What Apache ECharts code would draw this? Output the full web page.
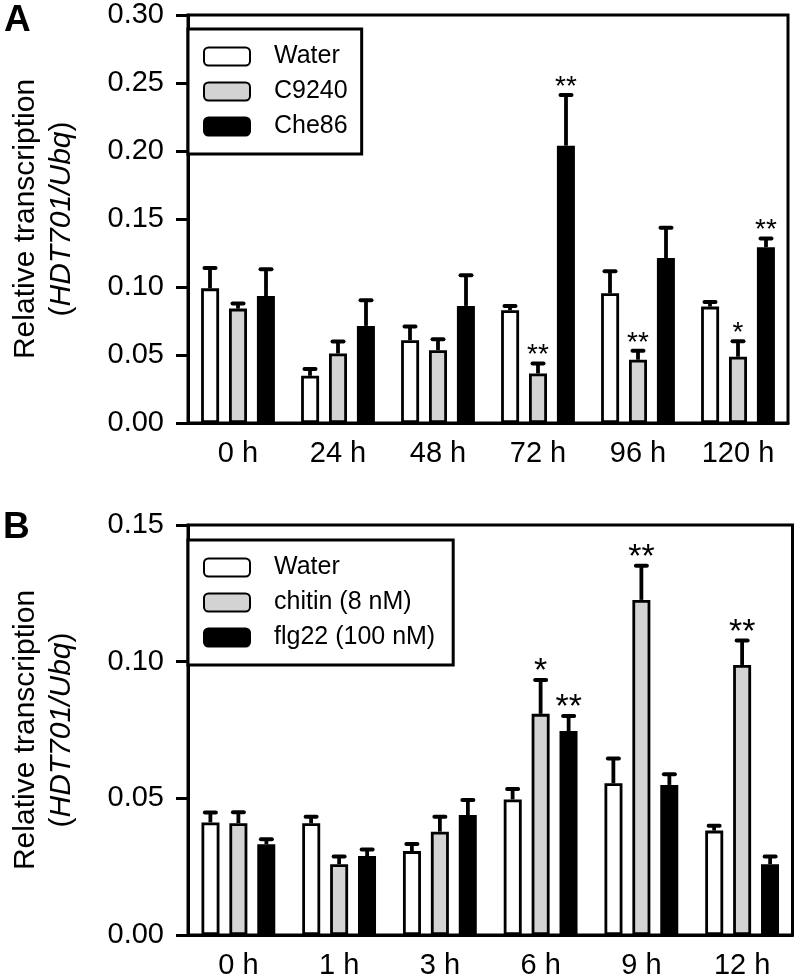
<!DOCTYPE html>
<html><head><meta charset="utf-8">
<script src="https://cdn.jsdelivr.net/npm/echarts@6/dist/echarts.min.js"></script>
<style>html,body{margin:0;padding:0;background:#fff}#c{width:797px;height:980px}</style>
</head><body><div id="c"></div>
<script>
// ---- Panel A data ----
const catsA = ['0 h', '24 h', '48 h', '72 h', '96 h', '120 h'];
const namesA = ['Water', 'C9240', 'Che86'];
const waterA = [0.0990, 0.0347, 0.0609, 0.0829, 0.0954, 0.0856];
const waterAErr = [0.0150, 0.0050, 0.0100, 0.0032, 0.0161, 0.0034];
const c9240A = [0.0841, 0.0511, 0.0535, 0.0364, 0.0465, 0.0487];
const c9240AErr = [0.0037, 0.0088, 0.0081, 0.0074, 0.0066, 0.0114];
const che86A = [0.0934, 0.0714, 0.0861, 0.2039, 0.1213, 0.1293];
const che86AErr = [0.0196, 0.0188, 0.0225, 0.0372, 0.0222, 0.0064];
const waterAStars = ['', '', '', '', '', ''];
const c9240AStars = ['', '', '', '**', '**', '*'];
const che86AStars = ['', '', '', '**', '', '**'];
const ticksA = { min: 0, max: 0.30, interval: 0.05 };

// ---- Panel B data ----
const catsB = ['0 h', '1 h', '3 h', '6 h', '9 h', '12 h'];
const namesB = ['Water', 'chitin (8 nM)', 'flg22 (100 nM)'];
const waterB = [0.0412, 0.0409, 0.0307, 0.0496, 0.0555, 0.0382];
const waterBErr = [0.0036, 0.0024, 0.0026, 0.0038, 0.0091, 0.0018];
const chitinB = [0.0409, 0.0259, 0.0378, 0.0809, 0.1226, 0.0988];
const chitinBErr = [0.0040, 0.0028, 0.0055, 0.0124, 0.0125, 0.0089];
const flg22B = [0.0332, 0.0289, 0.0439, 0.0746, 0.0549, 0.0259];
const flg22BErr = [0.0018, 0.0024, 0.0055, 0.0055, 0.0039, 0.0028];
const waterBStars = ['', '', '', '', '', ''];
const chitinBStars = ['', '', '', '*', '**', '**'];
const flg22BStars = ['', '', '', '**', '', ''];
const ticksB = { min: 0, max: 0.15, interval: 0.05 };

const yTitleText = 'Relative transcription\n({it|HDT701/Ubq})';

const FONT = '"Liberation Sans", Arial, Helvetica, sans-serif';
const fills = ['#ffffff', '#d3d3d3', '#000000'];
const BAR_STEP = 28;

const chart = echarts.init(document.getElementById('c'));

function barSeries(name, grid, data, idx) {
  return {
    type: 'bar', name: name, xAxisIndex: grid, yAxisIndex: grid,
    data: data, barWidth: 18, barGap: '55%',
    itemStyle: { color: fills[idx], borderColor: '#000', borderWidth: 2.8 },
    emphasis: { disabled: true }, silent: true, z: 2
  };
}

function errSeries(grid, idx, means, errs, stars, starSize) {
  const pos = idx - 1;
  return {
    type: 'custom', xAxisIndex: grid, yAxisIndex: grid, z: 5, silent: true,
    data: means.map((m, i) => [i, m, errs[i]]),
    renderItem: function (params, api) {
      const i = api.value(0), m = api.value(1), s = api.value(2);
      const base = api.coord([i, m]);
      const top = api.coord([i, m + s]);
      const x = base[0] + pos * BAR_STEP;
      const children = [
        { type: 'line', shape: { x1: x, y1: base[1], x2: x, y2: top[1] }, style: { stroke: '#000', lineWidth: 3.8 } },
        { type: 'line', shape: { x1: x - 5.5, y1: top[1], x2: x + 5.5, y2: top[1] }, style: { stroke: '#000', lineWidth: 4, lineCap: 'round' } }
      ];
      const st = stars[params.dataIndex];
      if (st) {
        children.push({ type: 'text', x: x, y: top[1] - 8,
          style: { text: st, fill: '#000', fontSize: starSize, fontFamily: FONT, align: 'center', verticalAlign: 'middle' } });
      }
      return { type: 'group', children: children };
    }
  };
}

function yAxis(grid, t) {
  return {
    type: 'value', gridIndex: grid, min: t.min, max: t.max, interval: t.interval,
    name: yTitleText, nameLocation: 'middle', nameRotate: 90, nameGap: 108,
    nameTextStyle: { fontSize: 30, fontFamily: FONT, color: '#000', lineHeight: 36,
      rich: { it: { fontStyle: 'italic', fontSize: 30, fontFamily: FONT, color: '#000', lineHeight: 36 } } },
    axisLine: { show: true, lineStyle: { color: '#000', width: 3 } },
    axisTick: { show: true, inside: false, length: 12, lineStyle: { color: '#000', width: 3 } },
    axisLabel: { fontSize: 29, fontFamily: FONT, color: '#000', margin: 24, formatter: v => v.toFixed(2) },
    splitLine: { show: false }
  };
}

function xAxis(grid, cats) {
  return {
    type: 'category', gridIndex: grid, data: cats,
    axisLine: { show: true, lineStyle: { color: '#000', width: 3 } },
    axisTick: { show: false },
    axisLabel: { fontSize: 29, fontFamily: FONT, color: '#000', margin: 16 },
    splitLine: { show: false }
  };
}

function legend(top, names, padH) {
  return {
    left: 188, top: top, orient: 'vertical', data: names, selectedMode: false,
    icon: 'roundRect', itemWidth: 46, itemHeight: 18, itemGap: 10,
    padding: [15, padH, 15, 15],
    borderColor: '#000', borderWidth: 3, backgroundColor: '#fff',
    textStyle: { fontSize: 25, fontFamily: FONT, color: '#000', padding: [0, 0, 0, 19] }
  };
}

chart.setOption({
  animation: false,
  textStyle: { fontFamily: FONT },
  grid: [
    { left: 173, top: 15, right: 9, height: 408, show: true, borderColor: '#000', borderWidth: 3, backgroundColor: 'transparent' },
    { left: 173, top: 525, right: 4.5, height: 410, show: true, borderColor: '#000', borderWidth: 3, backgroundColor: 'transparent' }
  ],
  xAxis: [xAxis(0, catsA), xAxis(1, catsB)],
  yAxis: [yAxis(0, ticksA), yAxis(1, ticksB)],
  legend: [legend(29, namesA, 14), legend(540, namesB, 18)],
  graphic: [
    { type: 'text', left: 4, top: 2, style: { text: 'A', fontSize: 37, fontWeight: 'bold', fontFamily: FONT, fill: '#000' } },
    { type: 'text', left: 3, top: 509, style: { text: 'B', fontSize: 37, fontWeight: 'bold', fontFamily: FONT, fill: '#000' } }
  ],
  series: [
    barSeries(namesA[0], 0, waterA, 0),
    barSeries(namesA[1], 0, c9240A, 1),
    barSeries(namesA[2], 0, che86A, 2),
    errSeries(0, 0, waterA, waterAErr, waterAStars, 28),
    errSeries(0, 1, c9240A, c9240AErr, c9240AStars, 28),
    errSeries(0, 2, che86A, che86AErr, che86AStars, 28),
    barSeries(namesB[0], 1, waterB, 0),
    barSeries(namesB[1], 1, chitinB, 1),
    barSeries(namesB[2], 1, flg22B, 2),
    errSeries(1, 0, waterB, waterBErr, waterBStars, 34),
    errSeries(1, 1, chitinB, chitinBErr, chitinBStars, 34),
    errSeries(1, 2, flg22B, flg22BErr, flg22BStars, 34)
  ]
});
</script>
</body></html>
